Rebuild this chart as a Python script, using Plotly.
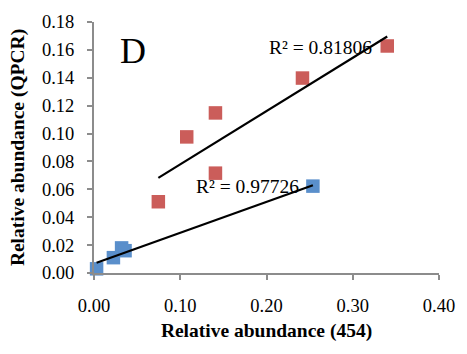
import numpy as np
import plotly.graph_objects as go

# Data
red_x = [0.0746, 0.1075, 0.1408, 0.1408, 0.2417, 0.340]
red_y = [0.0511, 0.0976, 0.1148, 0.0716, 0.1398, 0.1628]
blue_x = [0.003, 0.0225, 0.032, 0.036, 0.2538]
blue_y = [0.003, 0.011, 0.018, 0.016, 0.0623]
x_ticks = [0.0, 0.1, 0.2, 0.3, 0.4]
y_ticks = [0.00, 0.02, 0.04, 0.06, 0.08, 0.10, 0.12, 0.14, 0.16, 0.18]
r2_red = "R² = 0.81806"
r2_blue = "R² = 0.97726"
panel_label = "D"

RED = "#CB5D5A"
BLUE = "#5A8FCB"
FONT = "Liberation Serif, Times New Roman, serif"

def fit_line(xs, ys):
    m, b = np.polyfit(xs, ys, 1)
    xx = [min(xs), max(xs)]
    return xx, [m * v + b for v in xx]

fig = go.Figure()
for xs, ys, col in [(red_x, red_y, RED), (blue_x, blue_y, BLUE)]:
    fig.add_trace(go.Scatter(x=xs, y=ys, mode="markers", cliponaxis=False,
                             marker=dict(symbol="square", size=13.5, color=col,
                                         line=dict(width=0))))
for xs, ys in [(red_x, red_y), (blue_x, blue_y)]:
    lx, ly = fit_line(xs, ys)
    fig.add_trace(go.Scatter(x=lx, y=ly, mode="lines", cliponaxis=False,
                             line=dict(color="black", width=2.2)))

axis_common = dict(showline=True, linecolor="#8C8C8C", linewidth=2,
                   ticks="outside", tickcolor="#8C8C8C", tickwidth=2, ticklen=5,
                   showgrid=False, zeroline=False,
                   tickfont=dict(family=FONT, size=18.5, color="black"))

fig.update_xaxes(range=[0, 0.4], tickvals=x_ticks, tickformat=".2f",
                 ticklabelstandoff=10,
                 title=dict(text="<b>Relative abundance (454)</b>", standoff=8,
                            font=dict(family=FONT, size=19.5, color="black")),
                 **axis_common)
fig.update_yaxes(range=[0, 0.18], tickvals=y_ticks, tickformat=".2f",
                 ticklabelstandoff=9,
                 title=dict(text="<b>Relative abundance (QPCR)</b>", standoff=12,
                            font=dict(family=FONT, size=19.5, color="black")),
                 **axis_common)

fig.add_annotation(x=0.263, y=0.1617, text=r2_red, showarrow=False,
                   font=dict(family=FONT, size=19.5, color="black"))
fig.add_annotation(x=0.178, y=0.0621, text=r2_blue, showarrow=False,
                   font=dict(family=FONT, size=19.5, color="black"))
fig.add_annotation(x=0.0455, y=0.1595, text=panel_label, showarrow=False,
                   font=dict(family=FONT, size=36, color="black"))

fig.update_layout(width=467, height=354, showlegend=False,
                  margin=dict(l=93.5, r=20.3, t=13.7, b=81.3),
                  plot_bgcolor="white", paper_bgcolor="white")

fig.write_html("out.html")
